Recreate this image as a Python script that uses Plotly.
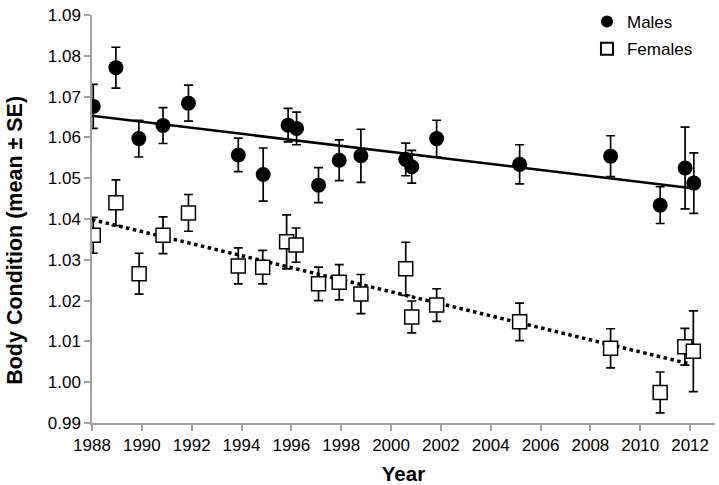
import numpy as np
import plotly.graph_objects as go

# Male data
male_year = [1988.05, 1988.96, 1989.88, 1990.85, 1991.87, 1993.87, 1994.87, 1995.87, 1996.21, 1997.09,
             1997.92, 1998.79, 2000.59, 2000.83, 2001.83, 2005.16, 2008.81, 2010.80, 2011.80, 2012.15]
male_mean = [1.0676, 1.0771, 1.0597, 1.0629, 1.0684, 1.0557, 1.0509, 1.0630, 1.0622, 1.0483,
             1.0544, 1.0555, 1.0546, 1.0528, 1.0597, 1.0534, 1.0554, 1.0434, 1.0525, 1.0488]
male_se = [0.0054, 0.0050, 0.0045, 0.0044, 0.0044, 0.0041, 0.0065, 0.0041, 0.0040, 0.0043,
           0.0050, 0.0065, 0.0040, 0.0040, 0.0045, 0.0048, 0.0050, 0.0045, 0.0100, 0.0074]

# Female data
female_year = [1988.05, 1988.96, 1989.89, 1990.85, 1991.87, 1993.87, 1994.85, 1995.81, 1996.19, 1997.09,
               1997.92, 1998.79, 2000.59, 2000.83, 2001.83, 2005.16, 2008.81, 2010.80, 2011.79, 2012.13]
female_mean = [1.0360, 1.0440, 1.0266, 1.0360, 1.0415, 1.0285, 1.0282, 1.0344, 1.0336, 1.0241,
               1.0245, 1.0216, 1.0278, 1.0160, 1.0189, 1.0148, 1.0083, 0.9975, 1.0087, 1.0076]
female_se = [0.0044, 0.0056, 0.0050, 0.0045, 0.0045, 0.0044, 0.0041, 0.0066, 0.0042, 0.0041,
             0.0043, 0.0048, 0.0065, 0.0039, 0.0040, 0.0046, 0.0048, 0.0050, 0.0045, 0.0099]

x_tick_vals = list(range(1988, 2013, 2))
y_tick_vals = [0.99, 1.00, 1.01, 1.02, 1.03, 1.04, 1.05, 1.06, 1.07, 1.08, 1.09]

trend_x = np.array([1988.0, 2012.0])
m_fit = np.polyfit(male_year, male_mean, 1)
f_fit = np.polyfit(female_year, female_mean, 1)

FONT = "Liberation Sans, Arial, Helvetica, sans-serif"

fig = go.Figure()

fig.add_trace(go.Scatter(x=trend_x, y=np.polyval(m_fit, trend_x), mode="lines",
                         line=dict(color="black", width=2.5), showlegend=False, hoverinfo="skip"))
fig.add_trace(go.Scatter(x=trend_x, y=np.polyval(f_fit, trend_x), mode="lines",
                         line=dict(color="black", width=3.5, dash="dot"), showlegend=False, hoverinfo="skip"))

fig.add_trace(go.Scatter(
    x=male_year, y=male_mean, mode="markers", name="Males", legendgroup="m",
    marker=dict(symbol="circle", size=15, color="black"),
    error_y=dict(type="data", array=male_se, color="black", thickness=1.7, width=4.5),
))
fig.add_trace(go.Scatter(
    x=female_year, y=female_mean, mode="markers", name="Females", legendgroup="f",
    marker=dict(symbol="square", size=14, color="white", line=dict(color="black", width=1.5)),
    error_y=dict(type="data", array=female_se, color="black", thickness=1.7, width=4.5),
))

fig.add_annotation(text="<b>Body Condition (mean ± SE)</b>", textangle=-90,
                   xref="paper", yref="paper", x=(15 - 92) / 623, y=(423 - 239) / 412,
                   xanchor="center", yanchor="middle", showarrow=False,
                   font=dict(size=21.5, family=FONT, color="black"))

fig.update_layout(
    width=719, height=485,
    margin=dict(l=92, r=4, t=11, b=62),
    plot_bgcolor="white", paper_bgcolor="white",
    font=dict(family=FONT, size=17, color="black"),
    legend=dict(x=0.7945, y=1.027, xanchor="left", yanchor="top", bgcolor="rgba(0,0,0,0)",
                font=dict(size=17), itemsizing="constant", tracegroupgap=2),
    xaxis=dict(range=[1988, 2013], tickvals=x_tick_vals, showgrid=False, zeroline=False,
               showline=True, linecolor="#a0a0a0", linewidth=1.5,
               ticks="outside", ticklen=6, tickcolor="#a0a0a0", tickwidth=1.5,
               title=dict(text="<b>Year</b>", font=dict(size=20.5), standoff=12),
               tickfont=dict(size=17)),
    yaxis=dict(range=[0.99, 1.09], tickvals=y_tick_vals, tickformat=".2f", showgrid=False, zeroline=False,
               showline=True, linecolor="#a0a0a0", linewidth=1.5,
               ticks="outside", ticklen=6, tickcolor="#a0a0a0", tickwidth=1.5,
               tickfont=dict(size=17)),
)

fig.write_html("out.html", config={"displayModeBar": False},
               post_script="document.body.style.margin='0';document.body.style.overflow='hidden';")
